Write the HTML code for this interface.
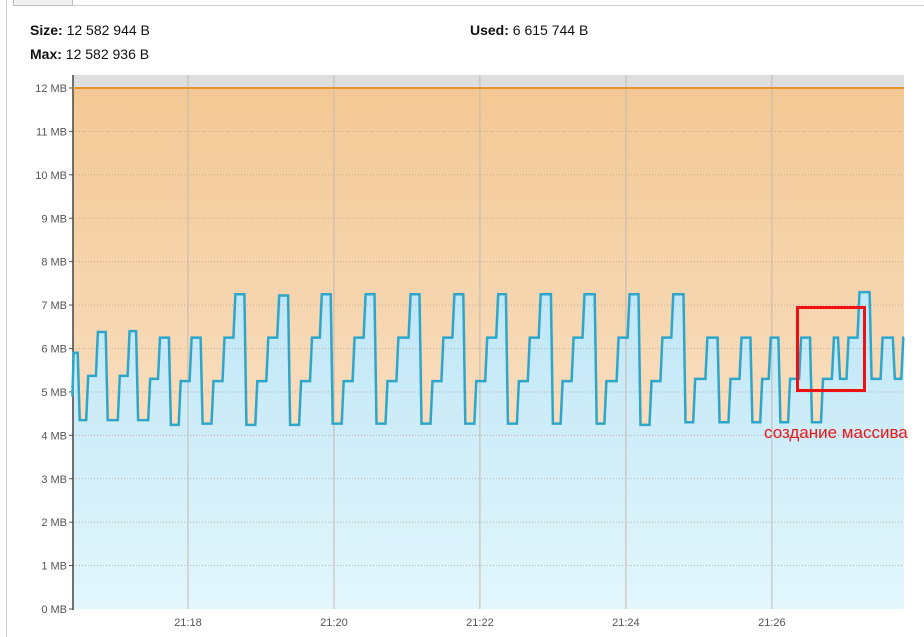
<!DOCTYPE html>
<html><head><meta charset="utf-8"><style>
body{margin:0;background:#fff;font-family:"Liberation Sans","Noto Sans CJK SC",sans-serif;}
#wrap{position:relative;width:924px;height:637px;overflow:hidden;background:#fff}
.hdr{position:absolute;font-size:14px;color:#111}
.hdr b{font-weight:bold}
</style></head><body>
<div id="wrap">
<div style="position:absolute;left:6px;top:0;width:1px;height:637px;background:#cfcfcf"></div>
<div style="position:absolute;left:13px;top:0;width:58px;height:5px;border:1px solid #bdbdbd;border-top:none;background:#f0f0f0"></div>
<div style="position:absolute;left:72px;top:5px;width:852px;height:1px;background:#cfcfcf"></div>
<div class="hdr" style="left:30px;top:22px"><b>Size:</b> 12 582 944 B</div>
<div class="hdr" style="left:30px;top:46px"><b>Max:</b> 12 582 936 B</div>
<div class="hdr" style="left:470px;top:22px"><b>Used:</b> 6 615 744 B</div>
<svg id="chart" width="924" height="637" style="position:absolute;left:0;top:0">
<defs>
<linearGradient id="og" x1="0" y1="0" x2="0" y2="1"><stop offset="0" stop-color="#f3c894"/><stop offset="1" stop-color="#fbe9d6"/></linearGradient>
<linearGradient id="bg" x1="0" y1="0" x2="0" y2="1"><stop offset="0" stop-color="#c0e6f6"/><stop offset="1" stop-color="#e2f6fc"/></linearGradient>
</defs>
</svg>
</div>
<script>
const segTimes=[25,26,31,38,46,54,64,72,79,89,97,106,114,123,132,141,150,159,168,177,186,195,204,213,222,230,239,248,257,266,275,284,293,303,312,321,330,339,348,357,366,375,383,392,401,410,420,428,437,446,456,464,474,483,492,501,510,519,529,537,547,557,566,575,584,592,599,607,615,624,633,642,651,656,663,672,682,691,701,708];
const segValues=[4.9,5.9,4.35,5.37,6.38,4.35,5.37,6.4,4.35,5.3,6.25,4.24,5.25,6.25,4.27,5.25,6.25,7.25,4.24,5.25,6.25,7.22,4.24,5.25,6.25,7.25,4.27,5.25,6.25,7.25,4.27,5.25,6.25,7.25,4.27,5.25,6.25,7.25,4.27,5.25,6.25,7.25,4.27,5.25,6.25,7.25,4.27,5.25,6.25,7.25,4.27,5.25,6.25,7.25,4.24,5.25,6.25,7.25,4.3,5.3,6.25,4.3,5.3,6.25,4.3,5.3,6.25,4.3,5.3,6.25,4.3,5.3,6.25,5.3,6.25,7.3,5.3,6.25,5.3,6.25];
const yTicks=[0,1,2,3,4,5,6,7,8,9,10,11,12];
const xTickTimes=[120,240,360,480,600];
const xTickLabels=["21:18","21:20","21:22","21:24","21:26"];
const maxMB=12;
const NS="http://www.w3.org/2000/svg";
const svg=document.getElementById('chart');
const L=73,R=904,T=75,B=609;
const t0=25.5,t1=708.6;
function X(t){return L+(t-t0)/(t1-t0)*(R-L);}
function Y(v){return B-v*(B-88)/12;}
function mk(tag,attrs){const e=document.createElementNS(NS,tag);for(const k in attrs)e.setAttribute(k,attrs[k]);svg.appendChild(e);return e;}
let e;
e=mk('rect',{x:L,y:T,width:R-L,height:Y(maxMB)-T,fill:'#dedede'});


e=mk('rect',{x:L,y:Y(maxMB),width:R-L,height:B-Y(maxMB),fill:'url(#og)'});


let pts=[];
for(let i=0;i<segTimes.length;i++){
  const xs=X(segTimes[i]);
  const xe=i<segTimes.length-1?X(segTimes[i+1])-2:R;
  pts.push([xs,Y(segValues[i])],[Math.max(xs,xe),Y(segValues[i])]);
}
let d='M'+pts.map(p=>p[0].toFixed(1)+','+p[1].toFixed(1)).join(' L');
e=mk('path',{d:d+` L${R},${B} L${L},${B} Z`,fill:'url(#bg)'});


yTicks.forEach(v=>{
  if(v>0&&v<12){e=mk('line',{x1:L,x2:R,y1:Y(v),y2:Y(v),stroke:'#b9a48c','stroke-dasharray':'1,2','stroke-width':0.8});
  
  }
  e=mk('line',{x1:L-4,x2:L,y1:Y(v),y2:Y(v),stroke:'#555'});
  
  
  e=mk('text',{x:L-6,y:Y(v)+4,'text-anchor':'end','font-size':11,fill:'#555','font-family':'Liberation Sans, sans-serif'});
  e.textContent=v+' MB';
  
  
});
xTickTimes.forEach((t,i)=>{
  e=mk('line',{x1:X(t),x2:X(t),y1:T,y2:B,stroke:'#c2b9b0','stroke-width':1});
  
  
  e=mk('text',{x:X(t),y:626,'text-anchor':'middle','font-size':11,fill:'#555','font-family':'Liberation Sans, sans-serif'});
  e.textContent=xTickLabels[i];
  
  
});
e=mk('line',{x1:L,x2:L,y1:T,y2:B+1,stroke:'#444','stroke-width':1.5});


e=mk('line',{x1:L,x2:R,y1:Y(maxMB),y2:Y(maxMB),stroke:'#e8932c','stroke-width':2});


e=mk('path',{d:d,fill:'none',stroke:'#2ea6c9','stroke-width':2.5,'stroke-linejoin':'miter'});


e=mk('rect',{x:797.5,y:307.5,width:67,height:83,fill:'none',stroke:'#ee1111','stroke-width':3});


e=mk('text',{x:764,y:438,'font-size':17,fill:'#e81818','font-family':'Liberation Sans, sans-serif'});
e.textContent='создание массива';


</script>
</body></html>
